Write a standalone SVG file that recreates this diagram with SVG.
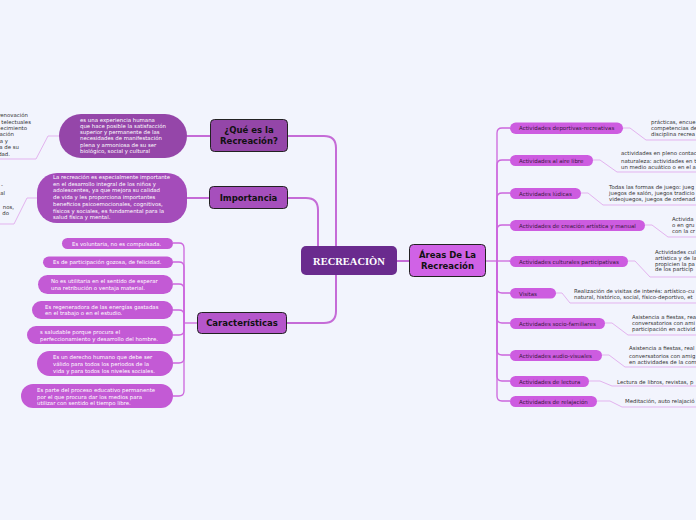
<svg xmlns="http://www.w3.org/2000/svg" width="696" height="520" viewBox="0 0 696 520">
<style>
.bg{fill:#f2f4fd}
.main{fill:none;stroke:#c56bd7;stroke-width:2}
.br{fill:none;stroke:#cc66dd;stroke-width:1.3}
.dl{fill:none;stroke:#e3b3ef;stroke-width:1}
.t1{font-family:"DejaVu Sans",Verdana,sans-serif;font-weight:bold;font-size:8.5px;fill:#111;text-anchor:middle}
.rp{fill:#cd5ce0}
.rt{font-family:"DejaVu Sans",Verdana,sans-serif;font-size:5.5px;fill:#3a1a40}
.dt{font-family:"DejaVu Sans",Verdana,sans-serif;font-size:5.4px;fill:#333}
.wt{font-family:"DejaVu Sans",Verdana,sans-serif;font-size:5.4px;fill:#fff}
.cp{fill:#c35ad5}
</style>
<rect class="bg" x="0" y="0" width="696" height="520"/>
<g id="connectors">
<path class="main" d="M336 247 V148 Q336 136 324 136 H288"/>
<path class="main" d="M318 247 V210 Q318 198 306 198 H288"/>
<path class="main" d="M336 275 V311 Q336 323 324 323 H287"/>
<path class="main" d="M397 261 H409"/>
<path class="main" d="M210 136 H187"/>
<path class="main" d="M209 198 H187"/>
<path class="dl" d="M59 136 H48 L36 159 H0"/>
<path class="dl" d="M37 198 H27 L14 224 H0"/>
<path class="br" d="M486 261 H497"/>
<path class="br" d="M497 261 V133 Q497 128 502 128 H510"/>
<path class="br" d="M497 261 V165 Q497 160 502 160 H510"/>
<path class="br" d="M497 261 V198 Q497 193 502 193 H510"/>
<path class="br" d="M497 261 V230 Q497 225 502 225 H510"/>
<path class="br" d="M497 261 H510"/>
<path class="br" d="M497 261 V288 Q497 293 502 293 H510"/>
<path class="br" d="M497 261 V318 Q497 323 502 323 H510"/>
<path class="br" d="M497 261 V350 Q497 355 502 355 H510"/>
<path class="br" d="M497 261 V376 Q497 381 502 381 H510"/>
<path class="br" d="M497 261 V396 Q497 401 502 401 H510"/>
<path class="br" d="M197 323 H184"/>
<path class="br" d="M184 323 V248 Q184 243 179 243 H173"/>
<path class="br" d="M184 323 V267 Q184 262 179 262 H173"/>
<path class="br" d="M184 323 V289 Q184 284 179 284 H173"/>
<path class="br" d="M184 323 V315 Q184 310 179 310 H173"/>
<path class="br" d="M184 323 V330 Q184 335 179 335 H173"/>
<path class="br" d="M184 323 V358 Q184 363 179 363 H173"/>
<path class="br" d="M184 323 V391 Q184 396 179 396 H173"/>
<path class="dl" d="M623 128 H630 L646 140 H696"/>
<path class="dl" d="M593 160 H600 L617 172 H696"/>
<path class="dl" d="M581 193 H588 L603 205 H696"/>
<path class="dl" d="M645 225 H652 L668 237 H696"/>
<path class="dl" d="M628 261 H635 L650 277 H696"/>
<path class="dl" d="M556 293 H562 L570 303 H696"/>
<path class="dl" d="M605 323 H612 L628 335 H696"/>
<path class="dl" d="M602 355 H609 L625 367 H696"/>
<path class="dl" d="M589 381 H600 L612 386 H696"/>
<path class="dl" d="M597 401 H610 L622 407 H696"/>
</g>
<g id="central">
<rect x="301" y="246" width="96" height="29" rx="5" fill="#6a2b8e"/>
<text x="349" y="264.5" font-family="'Liberation Serif',serif" font-weight="bold" font-size="10.5" fill="#fff" text-anchor="middle">RECREACIÒN</text>
</g>
<g id="areas">
<rect x="409.5" y="244.5" width="76" height="32" rx="4" fill="#d062e6" stroke="#222" stroke-width="1"/>
<text class="t1" x="447.5" y="258">Áreas De La</text>
<text class="t1" x="447.5" y="269">Recreación</text>
</g>
<g id="que-es">
<rect x="210.5" y="119.5" width="77" height="32" rx="4" fill="#9446a8" stroke="#222" stroke-width="1"/>
<text class="t1" x="249" y="133">¿Qué es la</text>
<text class="t1" x="249" y="144">Recreación?</text>
</g>
<g id="importancia">
<rect x="209.5" y="186.5" width="78" height="22" rx="4" fill="#a64fbc" stroke="#222" stroke-width="1"/>
<text class="t1" x="248.5" y="200.5">Importancia</text>
</g>
<g id="caracteristicas">
<rect x="197.5" y="312.5" width="89" height="21" rx="4" fill="#b556cb" stroke="#222" stroke-width="1"/>
<text class="t1" x="242" y="326">Características</text>
</g>
<g id="que-es-def">
<rect x="59" y="114" width="128" height="44" rx="22" fill="#9546a9"/>
<text class="wt" x="80" y="121.5">es una experiencia humana</text>
<text class="wt" x="80" y="127.5">que hace posible la satisfacción</text>
<text class="wt" x="80" y="134">superior y permanente de las</text>
<text class="wt" x="80" y="140">necesidades de manifestación</text>
<text class="wt" x="80" y="147">plena y armoniosa de su ser</text>
<text class="wt" x="80" y="153">biológico, social y cultural</text>
</g>
<g id="que-es-left">
<text class="dt" text-anchor="end" x="28" y="117">renovación</text>
<text class="dt" text-anchor="end" x="31" y="123.5">telectuales</text>
<text class="dt" text-anchor="end" x="27" y="130">ecimiento</text>
<text class="dt" text-anchor="end" x="14" y="136">ación</text>
<text class="dt" text-anchor="end" x="8" y="143">ra y</text>
<text class="dt" text-anchor="end" x="19" y="149">a de su</text>
<text class="dt" text-anchor="end" x="10" y="156">dad.</text>
</g>
<g id="importancia-def">
<rect x="37" y="173" width="150" height="50" rx="20" fill="#a44cba"/>
<text class="wt" x="53" y="179">La recreación es especialmente importante</text>
<text class="wt" x="53" y="186">en el desarrollo integral de los niños y</text>
<text class="wt" x="53" y="192">adolescentes, ya que mejora su calidad</text>
<text class="wt" x="53" y="199">de vida y les proporciona importantes</text>
<text class="wt" x="53" y="205.5">beneficios psicoemocionales, cognitivos,</text>
<text class="wt" x="53" y="212.5">físicos y sociales, es fundamental para la</text>
<text class="wt" x="53" y="219">salud física y mental.</text>
</g>
<g id="importancia-left">
<text class="dt" text-anchor="end" x="3" y="187">-</text>
<text class="dt" text-anchor="end" x="5" y="195">al</text>
<text class="dt" text-anchor="end" x="14" y="209">nos,</text>
<text class="dt" text-anchor="end" x="9" y="215">do</text>
</g>
<g id="c1"><rect class="cp" x="62" y="238" width="111" height="11" rx="5.5"/><text class="wt" x="72" y="245.5">Es voluntaria, no es compulsada.</text></g>
<g id="c2"><rect class="cp" x="43" y="256.5" width="130" height="11.5" rx="5.75"/><text class="wt" x="53" y="264">Es de participación gozosa, de felicidad.</text></g>
<g id="c3"><rect class="cp" x="38" y="275" width="135" height="19" rx="9.5"/><text class="wt" x="51" y="283">No es utilitaria en el sentido de esperar</text><text class="wt" x="51" y="290">una retribución o ventaja material.</text></g>
<g id="c4"><rect class="cp" x="32" y="301" width="141" height="18" rx="9"/><text class="wt" x="45" y="308.5">Es regeneradora de las energías gastadas</text><text class="wt" x="45" y="315">en el trabajo o en el estudio.</text></g>
<g id="c5"><rect class="cp" x="27" y="326" width="146" height="18" rx="9"/><text class="wt" x="40" y="333.5">s saludable porque procura el</text><text class="wt" x="40" y="340.5">perfeccionamiento y desarrollo del hombre.</text></g>
<g id="c6"><rect class="cp" x="37" y="351" width="136" height="25" rx="12.5"/><text class="wt" x="53" y="359">Es un derecho humano que debe ser</text><text class="wt" x="53" y="365.5">válido para todos los periodos de la</text><text class="wt" x="53" y="372.5">vida y para todos los niveles sociales.</text></g>
<g id="c7"><rect class="cp" x="21" y="384" width="152" height="24" rx="12"/><text class="wt" x="37" y="391.5">Es parte del proceso educativo permanente</text><text class="wt" x="37" y="398.5">por el que procura dar los medios para</text><text class="wt" x="37" y="405">utilizar con sentido el tiempo libre.</text></g>
<g id="a1"><rect class="rp" x="510" y="122.5" width="113" height="11.5" rx="5.75"/><text class="rt" x="519" y="130">Actividades deportivas-recreativas</text></g>
<g id="a2"><rect class="rp" x="510" y="155" width="83" height="11" rx="5.5"/><text class="rt" x="519" y="162.5">Actividades al aire libre</text></g>
<g id="a3"><rect class="rp" x="510" y="188" width="71" height="11" rx="5.5"/><text class="rt" x="519" y="195.5">Actividades lúdicas</text></g>
<g id="a4"><rect class="rp" x="510" y="220" width="135" height="11" rx="5.5"/><text class="rt" x="519" y="227.5">Actividades de creación artística y manual</text></g>
<g id="a5"><rect class="rp" x="510" y="256" width="118" height="11" rx="5.5"/><text class="rt" x="519" y="263.5">Actividades culturales participativas</text></g>
<g id="a6"><rect class="rp" x="510" y="288" width="46" height="10.5" rx="5.25"/><text class="rt" x="519" y="295.5">Visitas</text></g>
<g id="a7"><rect class="rp" x="510" y="318" width="95" height="11" rx="5.5"/><text class="rt" x="519" y="325.5">Actividades socio-familiares</text></g>
<g id="a8"><rect class="rp" x="510" y="350" width="92" height="11" rx="5.5"/><text class="rt" x="519" y="357.5">Actividades audio-visuales</text></g>
<g id="a9"><rect class="rp" x="510" y="376" width="79" height="11" rx="5.5"/><text class="rt" x="519" y="383.5">Actividades de lectura</text></g>
<g id="a10"><rect class="rp" x="510" y="396" width="87" height="11" rx="5.5"/><text class="rt" x="519" y="403.5">Actividades de relajación</text></g>
<g id="d1"><text class="dt" x="651" y="124">prácticas, encue</text><text class="dt" x="651" y="130">competencias de</text><text class="dt" x="651" y="136">disciplina recrea</text></g>
<g id="d2"><text class="dt" x="621" y="155">actividades en pleno contac</text><text class="dt" x="621" y="162.5">naturaleza: actividades en t</text><text class="dt" x="621" y="168.5">un medio acuático o en el a</text></g>
<g id="d3"><text class="dt" x="609" y="188.5">Todas las formas de juego: jueg</text><text class="dt" x="609" y="194.5">juegos de salón, juegos tradicio</text><text class="dt" x="609" y="200.5">videojuegos, juegos de ordenad</text></g>
<g id="d4"><text class="dt" x="672" y="220.5">Activida</text><text class="dt" x="672" y="227">o en gru</text><text class="dt" x="672" y="233">con la cr</text></g>
<g id="d5"><text class="dt" x="655" y="254">Actividades cul</text><text class="dt" x="655" y="259.5">artística y de la</text><text class="dt" x="655" y="265.5">propicien la pa</text><text class="dt" x="655" y="271">de los particip</text></g>
<g id="d6"><text class="dt" x="574" y="293">Realización de visitas de interés: artístico-cu</text><text class="dt" x="574" y="299">natural, histórico, social, físico-deportivo, et</text></g>
<g id="d7"><text class="dt" x="632" y="318.5">Asistencia a fiestas, rea</text><text class="dt" x="632" y="324.5">conversatorios con ami</text><text class="dt" x="632" y="331">participación en activid</text></g>
<g id="d8"><text class="dt" x="629" y="350">Asistencia a fiestas, real</text><text class="dt" x="629" y="357.5">conversatorios con amig</text><text class="dt" x="629" y="363.5">en actividades de la com</text></g>
<g id="d9"><text class="dt" x="617" y="383.5">Lectura de libros, revistas, p</text></g>
<g id="d10"><text class="dt" x="625" y="403">Meditación, auto relajació</text></g>
</svg>
